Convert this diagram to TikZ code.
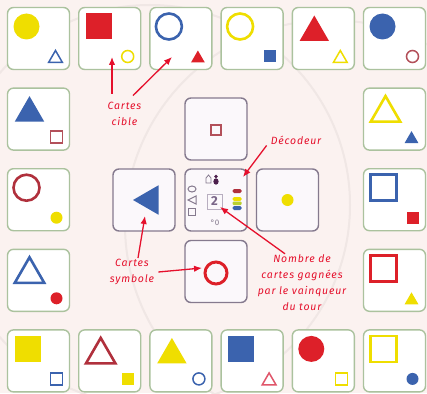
\documentclass[tikz,border=0pt]{standalone}
\usepackage{fontspec}
\newfontfamily\notefont{Fira Sans}[LetterSpace=8]
\newfontfamily\deckfont{Fira Sans}
\usetikzlibrary{positioning,shapes.geometric,arrows.meta}
\definecolor{paper}{HTML}{FBF2F0}
\definecolor{swirl}{HTML}{F0E7E5}
\definecolor{cardrim}{HTML}{ABC29E}
\definecolor{deckrim}{HTML}{857A8E}
\definecolor{deckfill}{HTML}{FBF8FB}
\definecolor{boxrim}{HTML}{B8AEC0}
\definecolor{digit}{HTML}{7A6688}
\definecolor{cyel}{HTML}{EFDE00}
\definecolor{clime}{HTML}{B8D030}
\definecolor{cred}{HTML}{DD2029}
\definecolor{cdark}{HTML}{B0303C}
\definecolor{cblue}{HTML}{3B63AE}
\definecolor{cbrown}{HTML}{B3505A}
\definecolor{cpink}{HTML}{E0566A}
\definecolor{pawn}{HTML}{4C1F4C}
\definecolor{note}{HTML}{E5102C}

\begin{document}
\begin{tikzpicture}[x=1pt,y=-1pt,
     card/.style={draw=cardrim,line width=1.4pt,fill=white,rounded corners=6pt,minimum size=62pt,inner sep=0pt},
     mid/.style={card,draw=deckrim,fill=deckfill},
     glyph/.style={inner sep=0pt,outer sep=0pt},
     bci/.style={glyph,circle,minimum size=26pt,xshift=-12pt,yshift=12pt},
     bsq/.style={glyph,rectangle,minimum size=26pt,xshift=-11pt,yshift=12pt},
     btr/.style={glyph,regular polygon,regular polygon sides=3,minimum size=34pt,xshift=-9pt,yshift=6pt},
     sci/.style={glyph,circle,minimum size=12pt,xshift=18pt,yshift=-18pt},
     ssq/.style={glyph,rectangle,minimum size=12pt,xshift=18pt,yshift=-18pt},
     str/.style={glyph,regular polygon,regular polygon sides=3,minimum size=16pt,xshift=17pt,yshift=-20pt},
     fb/.style={fill=#1,draw=none}, ob/.style={draw=#1,line width=2.6pt},
     fs/.style={fill=#1,draw=none}, os/.style={draw=#1,line width=1.5pt},
     lbl/.style={font=\notefont\itshape\fontsize{10.5}{16}\selectfont,text=note,align=center,inner sep=1pt},
     ptr/.style={draw=note,line width=1.3pt,-{Latex[length=8pt,width=6.5pt]}}]
    \fill[paper] (0,0) rectangle (427,393);
    \useasboundingbox (0,0) rectangle (427,393);
    \draw[swirl,line width=2pt] (150,205) circle[radius=200];
    \draw[swirl,line width=2pt] (330,225) circle[radius=205];
    % outer ring of target cards
    \foreach \nm/\cx/\ry/\bshape/\bpaint/\bcol/\sshape/\spaint/\scol in {
        a1/0/0/bci/fb/cyel/str/os/cblue, a2/1/0/bsq/fb/cred/sci/os/cyel,
        a3/2/0/bci/ob/cblue/str/fs/cred, a4/3/0/bci/ob/cyel/ssq/fs/cblue,
        a5/4/0/btr/fb/cred/str/os/cyel, a6/5/0/bci/fb/cblue/sci/os/cbrown,
        b1/0/1/btr/fb/cblue/ssq/os/cbrown, b2/0/2/bci/ob/cdark/sci/fs/cyel,
        b3/0/3/btr/ob/cblue/sci/fs/cred,
        c1/5/1/btr/ob/cyel/str/fs/cblue, c2/5/2/bsq/ob/cblue/ssq/fs/cred,
        c3/5/3/bsq/ob/cred/str/fs/cyel,
        d1/0/4/bsq/fb/cyel/ssq/os/cblue, d2/1/4/btr/ob/cdark/ssq/fs/cyel,
        d3/2/4/btr/fb/cyel/sci/os/cblue, d4/3/4/bsq/fb/cblue/str/os/cpink,
        d5/4/4/bci/fb/cred/ssq/os/cyel, d6/5/4/bsq/ob/cyel/sci/fs/cblue}{
      \node[card](\nm) at ({38.5+71.2*\cx},{38.5+80.6*\ry}){};
      \node[\bshape,\bpaint=\bcol] at (\nm.center){};
      \node[\sshape,\spaint=\scol] at (\nm.center){};
    }
    % centre cross
    \node[mid](up) at (216,129){};
    \node[mid](lf) at (144,200){};
    \node[mid](dec) at (216,200){};
    \node[mid](rt) at (287.5,200){};
    \node[mid](dn) at (216,271.5){};
    \node[glyph,rectangle,minimum size=10pt,draw=cbrown,line width=1.8pt](upsq) at ([yshift=-1pt]up.center){};
    \node[glyph,regular polygon,regular polygon sides=3,shape border rotate=90,minimum size=34pt,fill=cblue](lftr) at ([xshift=6pt]lf.center){};
    \node[glyph,circle,minimum size=12pt,fill=cyel](rtdot) at (rt.center){};
    \node[glyph,circle,minimum size=22pt,draw=cred,line width=3pt](dnci) at ([yshift=-1.5pt]dn.center){};
    \begin{scope}[shift={(dec.center)}]
      \draw[deckrim,line width=.8pt] (-10,-17) -- (-10,-22) -- (-7.5,-25) -- (-5,-22) -- (-5,-17) -- cycle;
      \fill[pawn] (0,-18.5) ellipse[x radius=2.6,y radius=3.2];
      \fill[pawn] (0,-23.5) circle[radius=1.8];
      \draw[deckrim,line width=1pt] (-24,-11) ellipse[x radius=4,y radius=3];
      \draw[deckrim,line width=1pt] (-20,-4) -- (-28,0) -- (-20,4) -- cycle;
      \draw[deckrim,line width=1pt] (-27.5,8.5) rectangle (-20.5,15.5);
      \draw[boxrim,line width=.8pt] (-9,-6) rectangle (6,9);
      \node[font=\deckfont\bfseries\fontsize{13}{13}\selectfont,text=digit](score) at (-1.5,1.5){2};
      \node[font=\deckfont\fontsize{8}{8}\selectfont,text=deckrim](zero) at (-1,23){°0};
      \fill[cdark,rounded corners=1.5pt] (16.5,-11) rectangle (25.5,-7);
      \fill[cyel,rounded corners=1.5pt] (16.5,-3) rectangle (25.5,1);
      \fill[clime,rounded corners=1pt] (16.5,1.5) rectangle (25.5,5);
      \fill[cblue,rounded corners=1.5pt] (16.5,6) rectangle (25.5,10);
    \end{scope}
    % notes
    \node[lbl](cible) at (124.5,113.5){Cartes\\cible};
    \node[lbl](deco) at (296,140){Décodeur};
    \node[lbl](symb) at (132,272){Cartes\\symbole};
    \node[lbl](gain) at (302,283){Nombre de\\cartes gagnées\\par le vainqueur\\du tour};
    \coordinate (tA) at (112,57); \coordinate (tB) at (172,57);
    \coordinate (tD) at (243,177); \coordinate (tS) at (145,216);
    \coordinate (tR) at (202,268); \coordinate (tN) at (220,207);
    \draw[ptr] ([xshift=-12.5pt,yshift=7pt]cible.north) -- (tA);
    \draw[ptr] ([xshift=8.5pt,yshift=5pt]cible.north) -- (tB);
    \draw[ptr] ([xshift=-3pt]deco.south west) -- (tD);
    \draw[ptr] ([xshift=6pt]symb.north) -- (tS);
    \draw[ptr] ([xshift=3pt]symb.east) -- (tR);
    \draw[ptr] ([xshift=-17pt]gain.north) -- (tN);
  \end{tikzpicture}
\end{document}
